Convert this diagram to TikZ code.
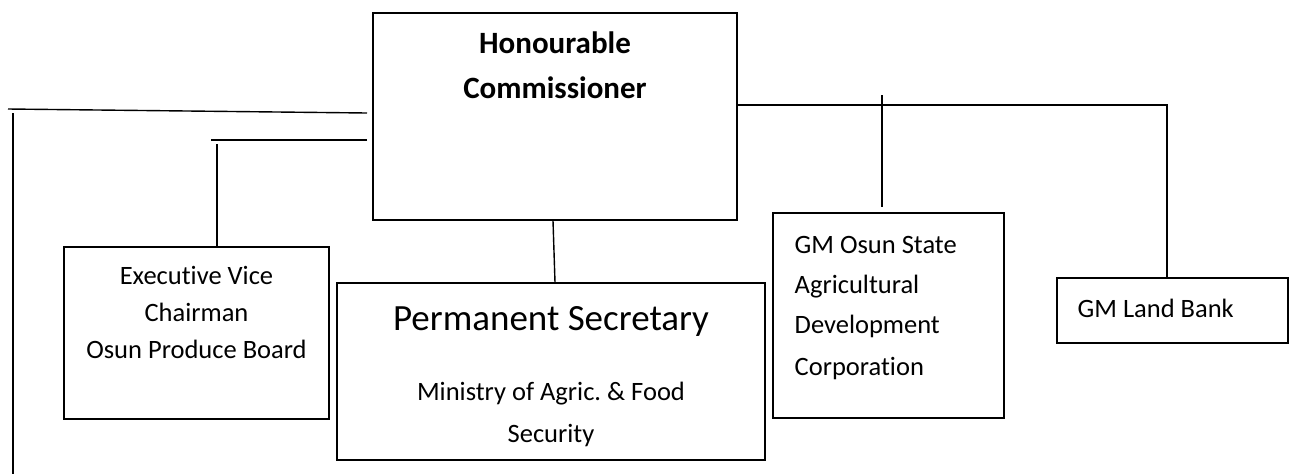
\documentclass[tikz,border=0pt]{standalone}
\usepackage{fontspec}
\setmainfont{Carlito}[Ligatures=NoCommon]
\frenchspacing
\begin{document}
\begin{tikzpicture}[x=1pt,y=-1pt,
  line width=1.4pt,
  box/.style={draw, rectangle, inner sep=0pt},
  txt/.style={inner sep=0pt, font=\fontsize{26.5}{32}\selectfont},
  big/.style={inner sep=0pt, font=\fontsize{37}{44}\selectfont},
  bold/.style={inner sep=0pt, font=\fontsize{31}{37}\selectfont\bfseries}]
\useasboundingbox (0,0) rectangle (1294,475);

% boxes
\node[box, minimum width=364pt, minimum height=207pt] (comm) at (555,116.5) {};
\node[box, minimum width=265pt, minimum height=172pt] (evc)  at (196.5,333) {};
\node[box, minimum width=428pt, minimum height=177pt] (ps)   at (551,371.5) {};
\node[box, minimum width=231pt, minimum height=205pt] (gmo)  at (888.5,315.5) {};
\node[box, minimum width=231pt, minimum height=65pt]  (land) at (1172.5,310.5) {};

% texts
\node[bold, anchor=base] (t1) at (555,53) {Honourable};
\node[bold, anchor=base] (t2) at (555,98) {Commissioner};

\node[txt, anchor=base] (e1) at (196.5,284) {Executive Vice};
\node[txt, anchor=base] (e2) at (196.5,321) {Chairman};
\node[txt, anchor=base] (e3) at (196.5,358) {Osun Produce Board};

\node[big, anchor=base] (p1) at (551,330) {Permanent Secretary};
\node[txt, anchor=base] (p2) at (551,400) {Ministry of Agric. \& Food};
\node[txt, anchor=base] (p3) at (551,442) {Security};

\node[txt, anchor=base west] (g1) at (794,253) {GM Osun State};
\node[txt, anchor=base west] (g2) at (794,293) {Agricultural};
\node[txt, anchor=base west] (g3) at (794,333) {Development};
\node[txt, anchor=base west] (g4) at (794,375) {Corporation};

\node[txt, anchor=base west] (l1) at (1077,317) {GM Land Bank};

% free ends of the connectors
\coordinate (a1) at (367,113);
\coordinate (a2) at (8,109);
\coordinate (a3) at (13,113);
\coordinate (a4) at (13,474);
\coordinate (b1) at (367,140);
\coordinate (b2) at (211,140);
\coordinate (b3) at (217,144);
\coordinate (c1) at (882,95);
\coordinate (c2) at (882,207);
\coordinate (d1) at (1167,105);

% connectors
\draw (a1) -- (a2);
\draw (a3) -- (a4);
\draw (b1) -- (b2);
\draw (b3) -- (b3 |- evc.north);
\draw ([xshift=-2pt]comm.south) -- ([xshift=4pt]ps.north);
\draw (comm.east |- d1) -- (d1) -- (d1 |- land.north);
\draw (c1) -- (c2);
\end{tikzpicture}
\end{document}
